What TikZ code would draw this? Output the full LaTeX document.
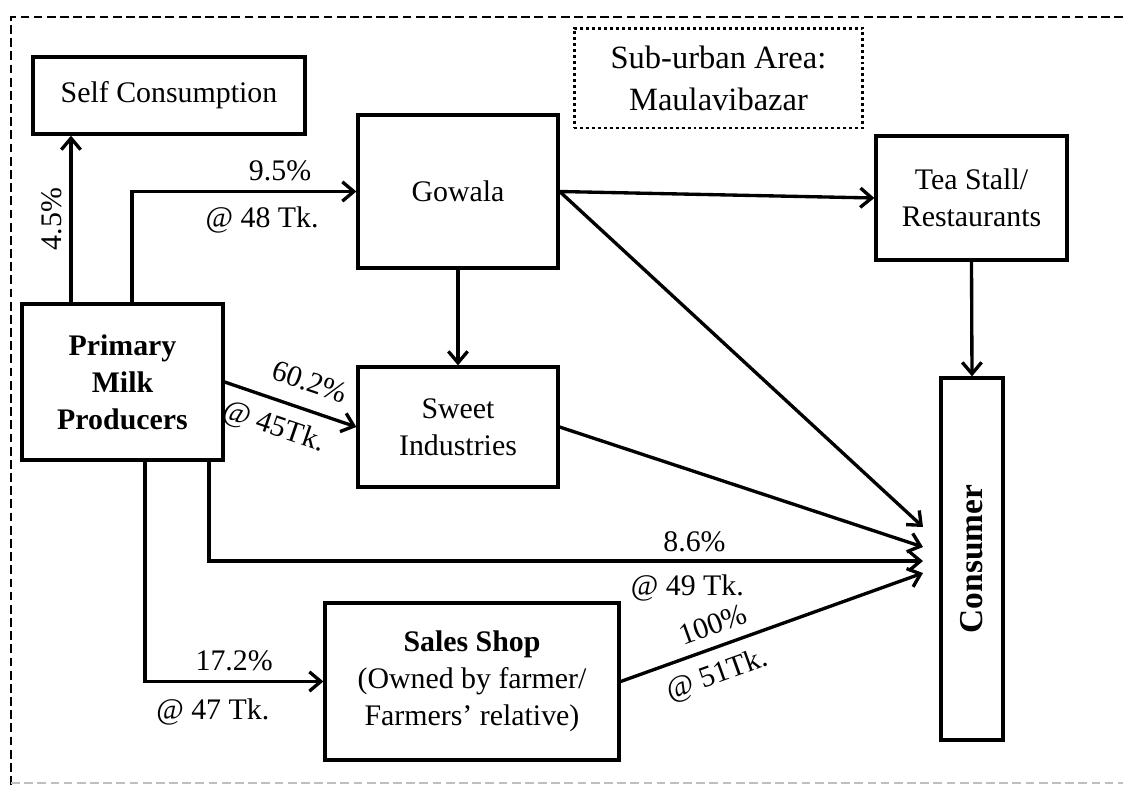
\documentclass[tikz,border=0pt]{standalone}
\usepackage{fontspec}
\setmainfont{Liberation Serif}
\usetikzlibrary{arrows.meta}

\begin{document}
\begin{tikzpicture}[x=0.02cm, y=-0.02cm,
    box/.style={draw, line width=1.9pt, align=center, inner sep=2pt, font=\fontsize{17}{21}\selectfont},
    flow/.style={line width=1.9pt, -{Straight Barb[length=6.5pt,width=11pt]}},
    lbl/.style={font=\fontsize{17}{21}\selectfont, inner sep=4pt}]
    \useasboundingbox (0,0) rectangle (1123,785);

    % frame
    \draw[line width=1.5pt, dash pattern=on 5pt off 2.5pt] (1123,17) -- (11,17) -- (11,785);
    \draw[line width=1pt, gray!50, dash pattern=on 5pt off 2.5pt] (11,783) -- (1123,783);

    \node[box, minimum width=5.44cm, minimum height=1.54cm] (selfc) at (169,95.5) {Self Consumption};
    \node[box, minimum width=4cm, minimum height=3.06cm] (gowala) at (458,191.5) {Gowala};
    \node[box, minimum width=4.02cm, minimum height=3.12cm, font=\fontsize{17}{21}\selectfont\bfseries] (primary) at (122.5,382) {Primary\\Milk\\Producers};
    \node[box, minimum width=4cm, minimum height=2.4cm] (sweet) at (458,427) {Sweet\\Industries};
    \node[box, minimum width=5.88cm, minimum height=3.14cm] (sales) at (472,681.5) {\textbf{Sales Shop}\\(Owned by farmer/\\Farmers’ relative)};
    \node[box, minimum width=3.82cm, minimum height=2.48cm] (tea) at (971.5,198) {Tea Stall/\\Restaurants};
    \node[box, minimum width=1.24cm, minimum height=7.24cm] (consumer) at (972,559) {\rotatebox{90}{\fontsize{19}{23}\selectfont\bfseries Consumer}};
    \node[box, line width=1.7pt, dash pattern=on 1.7pt off 1.7pt, minimum width=5.78cm, minimum height=2cm, font=\fontsize{18.5}{24}\selectfont] (area) at (718.5,78) {Sub-urban Area:\\Maulavibazar};

    \coordinate (in1) at (923,527);
    \coordinate (in2) at (923,547);
    \coordinate (in3) at (923,561);
    \coordinate (in4) at (923,573);

    \draw[flow] (primary.north -| 71,0) -- node[lbl, rotate=90, above] {4.5\%} (selfc.south -| 71,0);
    \draw[flow] (primary.north -| 132,0) |- node[lbl, pos=0.83, above=1pt] {9.5\%} node[lbl, pos=0.79, below=4pt] {@ 48 Tk.} (gowala.west);
    \draw[flow] (primary.east) -- node[lbl, sloped, above=5pt, pos=0.58] {60.2\%} node[lbl, sloped, below=3pt, pos=0.44] {@ 45Tk.} (sweet.west);
    \draw[flow] (primary.south -| 145,0) |- node[lbl, pos=0.75, above=1pt] {17.2\%} node[lbl, pos=0.69, below=5pt] {@ 47 Tk.} (sales.west);
    \draw[flow] (primary.south -| 209,0) |- node[lbl, pos=0.84, above] {8.6\%} node[lbl, pos=0.835, below=3pt] {@ 49 Tk.} (in3);
    \draw[flow] (gowala.south) -- (sweet.north);
    \draw[flow] (gowala.east) -- (tea.west);
    \draw[flow] (gowala.east) -- (in1);
    \draw[flow] (sweet.east) -- (in2);
    \draw[flow] (sales.east) -- node[lbl, sloped, above=2pt, pos=0.33] {100\%} node[lbl, sloped, below=3pt, pos=0.29] {@ 51Tk.} (in4);
    \draw[flow] (tea.south) -- (consumer.north);

\end{tikzpicture}
\end{document}
